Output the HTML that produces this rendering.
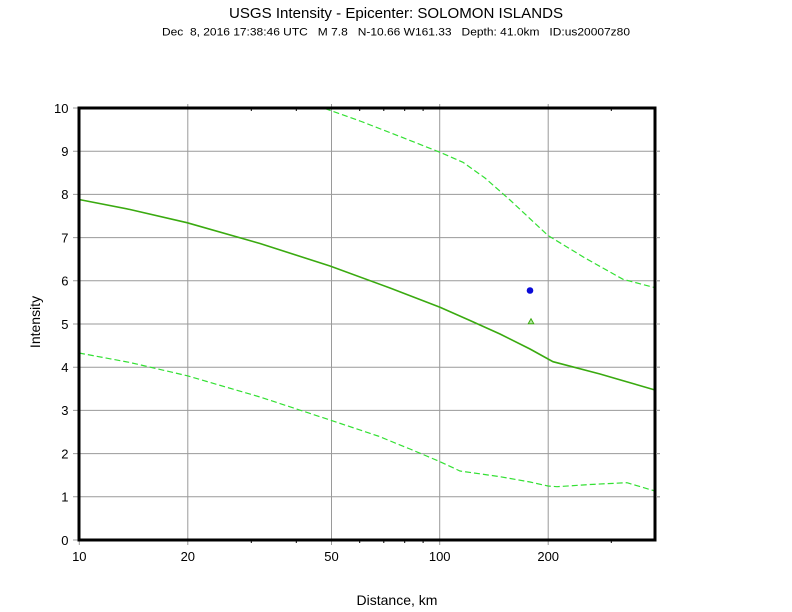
<!DOCTYPE html>
<html>
<head>
<meta charset="utf-8">
<style>
  html,body{margin:0;padding:0;background:#fff;}
  svg{display:block;}
  text{font-family:"Liberation Sans","DejaVu Sans",sans-serif;fill:#000;}
</style>
</head>
<body>
<svg width="792" height="612" viewBox="0 0 792 612" xmlns="http://www.w3.org/2000/svg">
  <rect width="792" height="612" fill="#fff"/>

  <!-- Titles -->
  <text x="396" y="18" font-size="15" text-anchor="middle" textLength="334" lengthAdjust="spacingAndGlyphs">USGS Intensity -  Epicenter: SOLOMON ISLANDS</text>
  <text x="396" y="35.5" font-size="11" text-anchor="middle" textLength="468" lengthAdjust="spacingAndGlyphs" xml:space="preserve">Dec  8, 2016 17:38:46 UTC   M 7.8   N-10.66 W161.33   Depth: 41.0km   ID:us20007z80</text>

  <!-- Horizontal gridlines -->
  <g stroke="#9a9a9a" stroke-width="1">
    <line x1="73" y1="496.8" x2="660" y2="496.8"/>
    <line x1="73" y1="453.6" x2="660" y2="453.6"/>
    <line x1="73" y1="410.4" x2="660" y2="410.4"/>
    <line x1="73" y1="367.2" x2="660" y2="367.2"/>
    <line x1="73" y1="324" x2="660" y2="324"/>
    <line x1="73" y1="280.8" x2="660" y2="280.8"/>
    <line x1="73" y1="237.6" x2="660" y2="237.6"/>
    <line x1="73" y1="194.4" x2="660" y2="194.4"/>
    <line x1="73" y1="151.2" x2="660" y2="151.2"/>
    <line x1="73" y1="108" x2="79" y2="108"/>
    <line x1="73" y1="540" x2="79" y2="540"/>
    <!-- vertical gridlines -->
    <line x1="187.8" y1="104" x2="187.8" y2="545"/>
    <line x1="331.5" y1="104" x2="331.5" y2="545"/>
    <line x1="439.7" y1="104" x2="439.7" y2="545"/>
    <line x1="548.2" y1="104" x2="548.2" y2="545"/>
    <line x1="79.3" y1="540" x2="79.3" y2="545"/>
  </g>

  <!-- minor ticks -->
  <g stroke="#000" stroke-width="1">
    <line x1="251.3" y1="540" x2="251.3" y2="543"/>
    <line x1="296.3" y1="540" x2="296.3" y2="543"/>
    <line x1="359.7" y1="540" x2="359.7" y2="543"/>
    <line x1="383.8" y1="540" x2="383.8" y2="543"/>
    <line x1="404.7" y1="540" x2="404.7" y2="543"/>
    <line x1="423.1" y1="540" x2="423.1" y2="543"/>
    <line x1="611.3" y1="540" x2="611.3" y2="543"/>
    <line x1="251.3" y1="108" x2="251.3" y2="111"/>
    <line x1="296.3" y1="108" x2="296.3" y2="111"/>
    <line x1="359.7" y1="108" x2="359.7" y2="111"/>
    <line x1="383.8" y1="108" x2="383.8" y2="111"/>
    <line x1="404.7" y1="108" x2="404.7" y2="111"/>
    <line x1="423.1" y1="108" x2="423.1" y2="111"/>
    <line x1="611.3" y1="108" x2="611.3" y2="111"/>
  </g>

  <!-- Upper dashed -->
  <polyline fill="none" stroke="#33e033" stroke-width="1.2" stroke-dasharray="6,3"
    points="325,108.5 360,121 400,136.5 440,152.3 463,162.3 485,178 510,200 548,235.5 585,258 623,279.3 655,287.7"/>

  <!-- Lower dashed -->
  <polyline fill="none" stroke="#33e033" stroke-width="1.2" stroke-dasharray="6,3"
    points="79,353 130,362.5 187,375.7 260,397 330,420 378,436 410,449 440,461.7 460,471 500,476.7 530,482 548,486 557,486.7 590,484.5 627,482.7 655,491"/>

  <!-- Main solid line -->
  <polyline fill="none" stroke="#3aaa10" stroke-width="1.6"
    points="79,199.5 130,209.5 187,222.7 260,243.5 330,266 390,288 440,307.3 470,320.5 500,334 530,349 553,361.7 600,374 655,390"/>

  <!-- Data points -->
  <circle cx="530" cy="290.5" r="3.3" fill="#0a0ad8"/>
  <polygon points="531,318.8 533.8,323.8 528.2,323.8" fill="#b8e8a8" stroke="#3aaa10" stroke-width="1"/>

  <!-- Frame -->
  <rect x="79" y="108" width="576" height="432" fill="none" stroke="#000" stroke-width="3"/>
  <!-- right-side ticks -->
  <g stroke="#9a9a9a" stroke-width="1">
    <line x1="656" y1="496.8" x2="660" y2="496.8"/>
    <line x1="656" y1="453.6" x2="660" y2="453.6"/>
    <line x1="656" y1="410.4" x2="660" y2="410.4"/>
    <line x1="656" y1="367.2" x2="660" y2="367.2"/>
    <line x1="656" y1="324" x2="660" y2="324"/>
    <line x1="656" y1="280.8" x2="660" y2="280.8"/>
    <line x1="656" y1="237.6" x2="660" y2="237.6"/>
    <line x1="656" y1="194.4" x2="660" y2="194.4"/>
    <line x1="656" y1="151.2" x2="660" y2="151.2"/>
  </g>

  <!-- Y tick labels -->
  <g font-size="13" text-anchor="end">
    <text x="68.5" y="112.8">10</text>
    <text x="68.5" y="156">9</text>
    <text x="68.5" y="199.2">8</text>
    <text x="68.5" y="242.4">7</text>
    <text x="68.5" y="285.6">6</text>
    <text x="68.5" y="328.8">5</text>
    <text x="68.5" y="372">4</text>
    <text x="68.5" y="415.2">3</text>
    <text x="68.5" y="458.4">2</text>
    <text x="68.5" y="501.6">1</text>
    <text x="68.5" y="544.8">0</text>
  </g>

  <!-- X tick labels -->
  <g font-size="13" text-anchor="middle">
    <text x="79.3" y="561">10</text>
    <text x="187.8" y="561">20</text>
    <text x="331.5" y="561">50</text>
    <text x="439.7" y="561">100</text>
    <text x="548.2" y="561">200</text>
  </g>

  <!-- Axis labels -->
  <text x="397" y="605" font-size="14" text-anchor="middle">Distance, km</text>
  <text x="0" y="0" font-size="14" text-anchor="middle" transform="translate(40,322) rotate(-90)">Intensity</text>
</svg>
</body>
</html>
